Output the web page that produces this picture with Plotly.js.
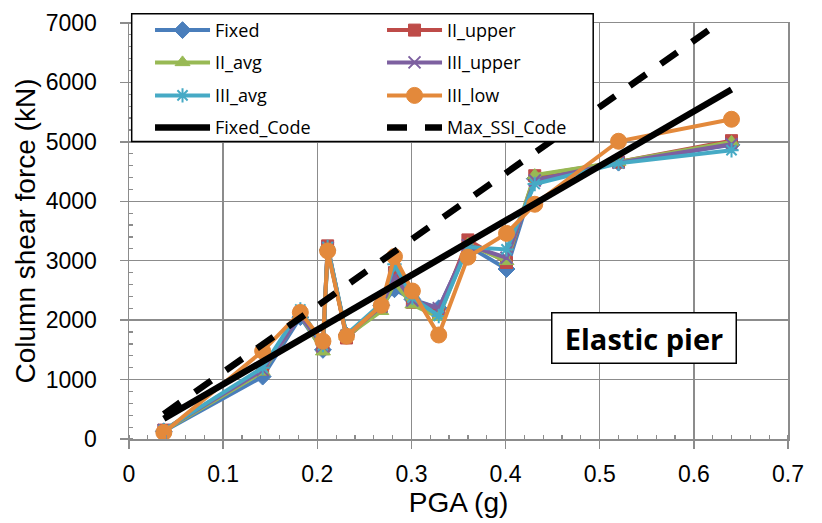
<!DOCTYPE html>
<html>
<head>
<meta charset="utf-8">
<script src="https://cdn.plot.ly/plotly-3.0.1.min.js"></script>
<style>
  html, body { margin: 0; padding: 0; background: #ffffff; }
  #chart { width: 822px; height: 523px; }
</style>
</head>
<body>
<div id="chart"></div>
<script>
// PGA (g) values
const pga = [0.037, 0.142, 0.182, 0.206, 0.211, 0.231, 0.268, 0.282, 0.301, 0.329, 0.360, 0.401, 0.431, 0.520, 0.640];

// Column shear force (kN)
const fixed    = [130, 1050, 2050, 1500, 3180, 1750, 2250, 2520, 2350, 2200, 3250, 2860, 4380, 4650, 4950];
const iiUpper  = [150, 1180, 2120, 1520, 3250, 1700, 2220, 2800, 2300, 2100, 3350, 2970, 4430, 4660, 5020];
const iiAvg    = [140, 1130, 2100, 1470, 3200, 1730, 2150, 2630, 2260, 2050, 3280, 2990, 4440, 4660, 5000];
const iiiUpper = [150, 1160, 2080, 1560, 3220, 1740, 2230, 2740, 2330, 2200, 3260, 3050, 4350, 4650, 4960];
const iiiAvg   = [150, 1200, 2180, 1580, 3230, 1760, 2280, 2940, 2380, 2070, 3230, 3190, 4290, 4640, 4860];
const iiiLow   = [110, 1480, 2130, 1646, 3165, 1730, 2250, 3070, 2490, 1750, 3060, 3460, 3950, 5010, 5380];
const fixedCode  = [340, 1300, 1670, 1890, 1940, 2120, 2460, 2590, 2760, 3020, 3300, 3680, 3960, 4770, 5880];
const maxSsiCode = [420, 1590, 2040, 2310, 2360, 2590, 3000, 3150, 3370, 3680, 4030, 4480, 4820, 5810, 7150];

const names = ["Fixed", "II_upper", "II_avg", "III_upper", "III_avg", "III_low", "Fixed_Code", "Max_SSI_Code"];
const xTickVals = [0, 0.1, 0.2, 0.3, 0.4, 0.5, 0.6, 0.7];
const xTickText = ["0", "0.1", "0.2", "0.3", "0.4", "0.5", "0.6", "0.7"];
const yTickVals = [0, 1000, 2000, 3000, 4000, 5000, 6000, 7000];
const yTickText = ["0", "1000", "2000", "3000", "4000", "5000", "6000", "7000"];

function series(name, y, color, symbol, size, open, legendId) {
  const marker = { symbol: symbol, size: size, color: color,
                   line: { color: color, width: open ? 2 : 1 } };
  return {
    type: "scatter", mode: "lines+markers", name: name, legend: legendId,
    x: pga, y: y,
    line: { color: color, width: 4 },
    marker: marker
  };
}

const data = [
  series(names[0], fixed,    "#4A7EBB", "diamond", 13, false, "legend"),
  series(names[1], iiUpper,  "#BE4B48", "square", 12, false, "legend"),
  series(names[2], iiAvg,    "#98B954", "triangle-up", 13, false, "legend2"),
  series(names[3], iiiUpper, "#7D60A0", "x-thin-open", 12, true, "legend2"),
  series(names[4], iiiAvg,   "#46AAC5", "asterisk-open", 12, true, "legend3"),
  series(names[5], iiiLow,   "#E3893B", "circle", 16, false, "legend3"),
  { type: "scatter", mode: "lines", name: names[6], legend: "legend4", x: pga, y: fixedCode,
    line: { color: "#000000", width: 6.5 } },
  { type: "scatter", mode: "lines", name: names[7], legend: "legend4", x: pga, y: maxSsiCode,
    line: { color: "#000000", width: 6.5, dash: "20px,18px" } }
];

const gridCol = "#8c8c8c";
const tickFont = { family: "Liberation Sans, Arial, sans-serif", size: 23, color: "#000000" };
const legendFont = { family: "Open Sans, sans-serif", size: 18, color: "#000000" };
const titleFont = { family: "Liberation Sans, Arial, sans-serif", size: 28, color: "#000000" };

function legendRow(yPaper) {
  return {
    orientation: "h", x: 0.0319, xanchor: "left", y: yPaper, yanchor: "middle",
    bgcolor: "rgba(0,0,0,0)", borderwidth: 0,
    font: legendFont, entrywidth: 162, itemwidth: 55, traceorder: "normal"
  };
}

const layout = {
  width: 822, height: 523,
  margin: { l: 129, r: 34, t: 23, b: 84 },
  paper_bgcolor: "#ffffff", plot_bgcolor: "#ffffff",
  showlegend: true,
  xaxis: {
    range: [0, 0.7], tickmode: "array", tickvals: xTickVals, ticktext: xTickText,
    showgrid: true, gridcolor: gridCol, gridwidth: 1.3,
    showline: true, linecolor: gridCol, linewidth: 1.5, mirror: true,
    zeroline: false,
    ticks: "outside", ticklen: 8, tickcolor: gridCol, tickwidth: 1.3,
    ticklabelstandoff: 6,
    tickfont: tickFont,
    minor: { dtick: 0.02, ticks: "inside", ticklen: 4, tickcolor: gridCol, tickwidth: 1.2, showgrid: false },
    title: { text: "PGA (g)", font: titleFont, standoff: 3 },
    automargin: false
  },
  yaxis: {
    range: [0, 7000], tickmode: "array", tickvals: yTickVals, ticktext: yTickText,
    showgrid: true, gridcolor: gridCol, gridwidth: 1.3,
    showline: true, linecolor: gridCol, linewidth: 1.5, mirror: true,
    zeroline: false,
    ticks: "outside", ticklen: 8, tickcolor: gridCol, tickwidth: 1.3,
    ticklabelstandoff: 18,
    tickfont: tickFont,
    minor: { dtick: 200, ticks: "inside", ticklen: 4, tickcolor: gridCol, tickwidth: 1.2, showgrid: false },
    title: { text: "Column shear force (kN)", font: titleFont, standoff: 2 },
    automargin: false
  },
  legend: legendRow(0.9822),
  legend2: legendRow(0.9046),
  legend3: legendRow(0.8252),
  legend4: legendRow(0.7483),
  shapes: [{
    type: "rect", xref: "paper", yref: "paper", layer: "above",
    x0: 0.0041, x1: 0.7044, y0: 0.7154, y1: 1.0224,
    fillcolor: "#ffffff", line: { color: "#000000", width: 1.5 }
  }],
  annotations: [{
    xref: "paper", yref: "paper", x: 0.7818, y: 0.2435,
    xanchor: "center", yanchor: "middle",
    text: "Elastic pier", showarrow: false,
    font: { family: "Open Sans, sans-serif", size: 29, weight: "bold", color: "#000000" },
    bgcolor: "#ffffff", bordercolor: "#000000", borderwidth: 1.5, borderpad: 0,
    width: 183, height: 49
  }]
};

Plotly.newPlot("chart", data, layout, { displayModeBar: false, staticPlot: true });
</script>
</body>
</html>
